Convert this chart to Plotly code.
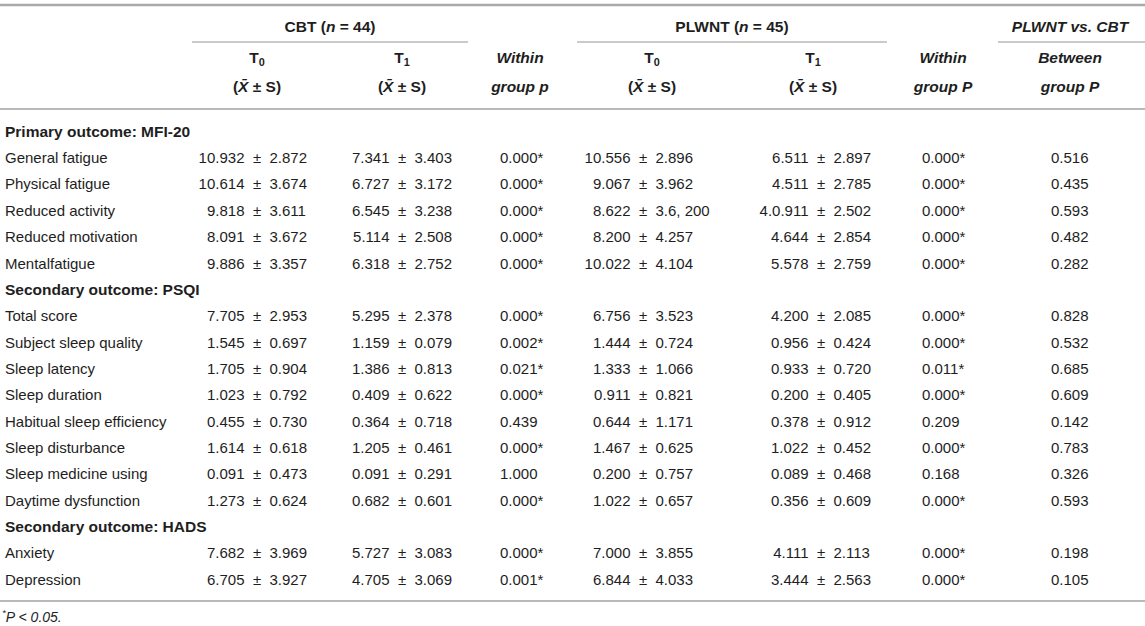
import plotly.graph_objects as go

# --- table content ---
sections = ["Primary outcome: MFI-20", "Secondary outcome: PSQI", "Secondary outcome: HADS"]
section_items = [
    ["General fatigue", "Physical fatigue", "Reduced activity", "Reduced motivation", "Mentalfatigue"],
    ["Total score", "Subject sleep quality", "Sleep latency", "Sleep duration",
     "Habitual sleep efficiency", "Sleep disturbance", "Sleep medicine using", "Daytime dysfunction"],
    ["Anxiety", "Depression"],
]

cbt_t0_mean = ["10.932", "10.614", "9.818", "8.091", "9.886",
               "7.705", "1.545", "1.705", "1.023", "0.455", "1.614", "0.091", "1.273",
               "7.682", "6.705"]
cbt_t0_sd = ["2.872", "3.674", "3.611", "3.672", "3.357",
             "2.953", "0.697", "0.904", "0.792", "0.730", "0.618", "0.473", "0.624",
             "3.969", "3.927"]
cbt_t1_mean = ["7.341", "6.727", "6.545", "5.114", "6.318",
               "5.295", "1.159", "1.386", "0.409", "0.364", "1.205", "0.091", "0.682",
               "5.727", "4.705"]
cbt_t1_sd = ["3.403", "3.172", "3.238", "2.508", "2.752",
             "2.378", "0.079", "0.813", "0.622", "0.718", "0.461", "0.291", "0.601",
             "3.083", "3.069"]
cbt_p = ["0.000*", "0.000*", "0.000*", "0.000*", "0.000*",
         "0.000*", "0.002*", "0.021*", "0.000*", "0.439", "0.000*", "1.000", "0.000*",
         "0.000*", "0.001*"]
plwnt_t0_mean = ["10.556", "9.067", "8.622", "8.200", "10.022",
                 "6.756", "1.444", "1.333", "0.911", "0.644", "1.467", "0.200", "1.022",
                 "7.000", "6.844"]
plwnt_t0_sd = ["2.896", "3.962", "3.6, 200", "4.257", "4.104",
               "3.523", "0.724", "1.066", "0.821", "1.171", "0.625", "0.757", "0.657",
               "3.855", "4.033"]
plwnt_t1_mean = ["6.511", "4.511", "4.0.911", "4.644", "5.578",
                 "4.200", "0.956", "0.933", "0.200", "0.378", "1.022", "0.089", "0.356",
                 "4.111", "3.444"]
plwnt_t1_sd = ["2.897", "2.785", "2.502", "2.854", "2.759",
               "2.085", "0.424", "0.720", "0.405", "0.912", "0.452", "0.468", "0.609",
               "2.113", "2.563"]
plwnt_p = ["0.000*", "0.000*", "0.000*", "0.000*", "0.000*",
           "0.000*", "0.000*", "0.011*", "0.000*", "0.209", "0.000*", "0.168", "0.000*",
           "0.000*", "0.000*"]
between_p = ["0.516", "0.435", "0.593", "0.482", "0.282",
             "0.828", "0.532", "0.685", "0.609", "0.142", "0.783", "0.326", "0.593",
             "0.198", "0.105"]

group_headers = ["CBT (<i>n</i> = 44)", "PLWNT (<i>n</i> = 45)", "<i>PLWNT vs. CBT</i>"]
col_head_1 = ["T<sub>0</sub>", "T<sub>1</sub>", "<i>Within</i>",
              "T<sub>0</sub>", "T<sub>1</sub>", "<i>Within</i>", "<i>Between</i>"]
col_head_2 = ["(<i>X\u0304</i> ± S)", "(<i>X\u0304</i> ± S)", "<i>group p</i>",
              "(<i>X\u0304</i> ± S)", "(<i>X\u0304</i> ± S)", "<i>group P</i>", "<i>group P</i>"]
footnote = "<i><sup>*</sup>P &lt; 0.05.</i>"

# --- layout (pixels) ---
W, H = 1145, 626
TXT = "#1e1e1e"
LINE = "#b9b9b9"
FONT = "Liberation Sans"
FS = 15
FS_B = 15.5

row_y0, row_dy = 133, 26.35
col_x = [257, 402, 520, 652, 813, 943, 1070]
pm_x = [257, 402, 643, 821]       # centre of the ± sign in the mean ± S columns
half_gap = 12.5
p_left = [500, 922, 1051]          # left edge of the p value columns
group_x = [330, 732, 1070]
group_lines = [(192, 468), (577, 887), (998, 1145)]

# build row list: section rows and data rows
label_y, label_txt, label_bold = [], [], []
data_y = []
r = 0
for sec, items in zip(sections, section_items):
    label_y.append(row_y0 + r * row_dy)
    label_txt.append("<b>" + sec + "</b>")
    label_bold.append(True)
    r += 1
    for it in items:
        label_y.append(row_y0 + r * row_dy)
        label_txt.append(it)
        label_bold.append(False)
        data_y.append(row_y0 + r * row_dy)
        r += 1

fig = go.Figure()


def text_trace(x, y, text, pos, size=FS):
    fig.add_trace(go.Scatter(
        x=x, y=y, text=text, mode="text", textposition=pos,
        textfont=dict(family=FONT, size=size, color=TXT),
        hoverinfo="skip", showlegend=False, cliponaxis=False,
    ))


# row labels
text_trace([5] * len(data_y), data_y,
           [t for t, b in zip(label_txt, label_bold) if not b], "middle right")
sec_y = [y for y, b in zip(label_y, label_bold) if b]
text_trace([5] * len(sec_y), sec_y,
           [t for t, b in zip(label_txt, label_bold) if b], "middle right", FS_B)

# mean ± S columns
n = len(data_y)
for px, means, sds in zip(pm_x,
                          [cbt_t0_mean, cbt_t1_mean, plwnt_t0_mean, plwnt_t1_mean],
                          [cbt_t0_sd, cbt_t1_sd, plwnt_t0_sd, plwnt_t1_sd]):
    text_trace([px - half_gap] * n, data_y, means, "middle left")
    text_trace([px] * n, data_y, ["±"] * n, "middle center")
    text_trace([px + half_gap] * n, data_y, sds, "middle right")

# p value columns
for px, vals in zip(p_left, [cbt_p, plwnt_p, between_p]):
    text_trace([px] * n, data_y, vals, "middle right")

# headers
text_trace(group_x, [28] * 3, ["<b>" + g + "</b>" for g in group_headers], "middle center", FS_B)
text_trace(col_x, [59] * 7, ["<b>" + h + "</b>" for h in col_head_1], "middle center", FS_B)
text_trace(col_x, [88] * 7, ["<b>" + h + "</b>" for h in col_head_2], "middle center", FS_B)

# footnote
text_trace([2], [618], [footnote], "middle right", 14)

# rules
shapes = [
    dict(type="line", x0=0, x1=W, y0=5, y1=5, line=dict(color="#a9a9a9", width=2.5)),
    dict(type="line", x0=0, x1=W, y0=109, y1=109, line=dict(color=LINE, width=2)),
    dict(type="line", x0=0, x1=W, y0=601, y1=601, line=dict(color=LINE, width=2)),
]
for a, b in group_lines:
    shapes.append(dict(type="line", x0=a, x1=b, y0=42, y1=42, line=dict(color=LINE, width=1.5)))
for s in shapes:
    s.update(xref="x", yref="y", layer="below")

fig.update_layout(
    width=W, height=H,
    margin=dict(l=0, r=0, t=0, b=0),
    paper_bgcolor="white", plot_bgcolor="white",
    shapes=shapes,
    xaxis=dict(range=[0, W], visible=False, fixedrange=True),
    yaxis=dict(range=[H, 0], visible=False, fixedrange=True),
    showlegend=False,
)

# the page body has a default 8px margin; drop it so the table sits at the window corner
fig.write_html("out.html", config={"displayModeBar": False},
               post_script="document.body.style.margin='0px';")
